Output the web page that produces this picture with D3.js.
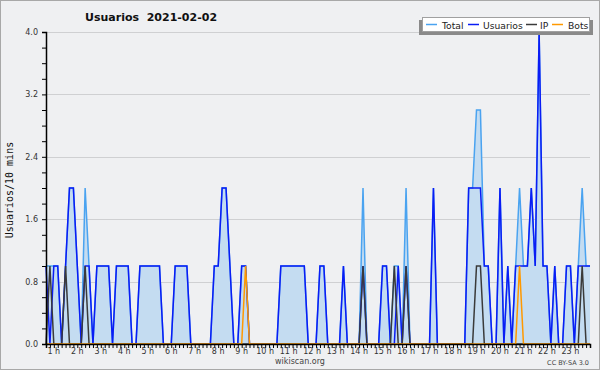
<!DOCTYPE html>
<html><head><meta charset="utf-8">
<script src="https://cdn.jsdelivr.net/npm/d3@7/dist/d3.min.js"></script>
<style>body{margin:0;background:#fff}svg{display:block}</style>
</head><body>
<svg id="c" width="600" height="370"></svg>
<script>
const hourLabels = ["1 h","2 h","3 h","4 h","5 h","6 h","7 h","8 h","9 h","10 h","11 h","12 h","13 h","14 h","15 h","16 h","17 h","18 h","19 h","20 h","21 h","22 h","23 h"];
const yTicks = [0, 0.8, 1.6, 2.4, 3.2, 4.0];
// one value per 10 minutes
const usuarios = [
1,0,1,1,0,1,2,2,1,0,
1,1,0,1,1,1,1,0,1,1,
1,1,0,0,1,1,1,1,1,1,
0,0,0,1,1,1,1,0,0,0,
0,0,0,1,1,2,2,1,0,0,
1,1,0,0,0,0,0,0,0,0,
1,1,1,1,1,1,1,0,0,0,
1,1,0,0,0,0,1,0,0,0,
0,1,0,0,0,0,1,1,0,0,
1,0,1,0,0,0,0,0,0,2,
0,0,0,0,0,0,0,0,2,2,
2,2,1,1,0,0,2,0,1,0,
1,1,1,1,2,1,4,1,1,0,
1,0,0,1,1,0,1,1,1,1];
const ip = [
0,1,0,0,0,1,0,0,0,0,
1,0,0,0,0,0,0,0,0,0,
0,0,0,0,0,0,0,0,0,0,
0,0,0,0,0,0,0,0,0,0,
0,0,0,0,0,0,0,0,0,0,
0,0,0,0,0,0,0,0,0,0,
0,0,0,0,0,0,0,0,0,0,
0,0,0,0,0,0,0,0,0,0,
0,1,0,0,0,0,0,0,0,1,
0,0,1,0,0,0,0,0,0,0,
0,0,0,0,0,0,0,0,0,0,
1,1,0,0,0,0,0,0,0,0,
0,0,0,0,0,0,0,0,0,0,
0,0,0,0,0,0,0,1,0,0];
const bots = [
0,0,0,0,0,0,0,0,0,0,
0,0,0,0,0,0,0,0,0,0,
0,0,0,0,0,0,0,0,0,0,
0,0,0,0,0,0,0,0,0,0,
0,0,0,0,0,0,0,0,0,0,
0,1,0,0,0,0,0,0,0,0,
0,0,0,0,0,0,0,0,0,0,
0,0,0,0,0,0,0,0,0,0,
0,0,0,0,0,0,0,0,0,0,
0,0,0,0,0,0,0,0,0,0,
0,0,0,0,0,0,0,0,0,0,
0,0,0,0,0,0,0,0,0,0,
0,1,0,0,0,0,0,0,0,0,
0,0,0,0,0,0,0,0,0,0];
const total = [
1,1,1,1,0,1,2,2,1,0,
2,1,0,1,1,1,1,0,1,1,
1,1,0,0,1,1,1,1,1,1,
0,0,0,1,1,1,1,0,0,0,
0,0,0,1,1,2,2,1,0,0,
1,1,0,0,0,0,0,0,0,0,
1,1,1,1,1,1,1,0,0,0,
1,1,0,0,0,0,1,0,0,0,
0,2,0,0,0,0,1,1,0,1,
1,0,2,0,0,0,0,0,0,2,
0,0,0,0,0,0,0,0,2,2,
3,3,1,1,0,0,2,0,1,0,
1,2,1,1,2,1,4,1,1,0,
1,0,0,1,1,0,1,2,1,1];
const legendItems = ["Total","Usuarios","IP","Bots"];

const svg = d3.select("#c");
const W = 600, H = 370;
const bg = "#eff0f2";
svg.append("rect").attr("x",0.5).attr("y",0.5).attr("width",W-1).attr("height",H-1)
  .attr("fill",bg).attr("stroke","#a8a8a8");

const x = d3.scaleLinear().domain([0, usuarios.length-1]).range([46, 590]);
const y = d3.scaleLinear().domain([0, 4]).range([344, 32]);

// grid
svg.append("g").selectAll("line").data(yTicks.filter(d=>d>0)).join("line")
  .attr("x1",46).attr("x2",590).attr("y1",d=>Math.round(y(d))+0.5).attr("y2",d=>Math.round(y(d))+0.5)
  .attr("stroke","#cfd0d2").attr("stroke-width",1);

const idx = d3.range(usuarios.length);
const area = d3.area().x(i=>x(i)).y0(y(0)).y1(i=>y(total[i]));
svg.append("path").datum(idx).attr("d",area).attr("fill","#c4dcf1");

const line = arr => d3.line().x(i=>x(i)).y(i=>y(arr[i]));
const series = [[total,"#4aa3f0"],[usuarios,"#0a1cf5"],[ip,"#3a3a3a"],[bots,"#ff9900"]];
series.forEach(([arr,col])=>{
  svg.append("path").datum(idx).attr("d",line(arr)).attr("fill","none")
    .attr("stroke",col).attr("stroke-width",1.5).attr("stroke-linejoin","miter");
});

// y axis
const yAxis = d3.axisLeft(y).tickValues(d3.range(0,4.001,0.2)).tickSize(4)
  .tickFormat(d=> yTicks.some(t=>Math.abs(t-d)<1e-6) ? d.toFixed(1) : "");
const ga = svg.append("g").attr("transform","translate(46,0)").call(yAxis);
ga.select(".domain").attr("stroke","#000").attr("stroke-width",1.5);
ga.selectAll(".tick line").attr("stroke","#000");
ga.selectAll("text").attr("font-family","DejaVu Sans").attr("font-size",8).attr("fill","#333").attr("dx",-1);

// x axis
const xAxis = d3.axisBottom(x).tickValues(idx).tickSize(4).tickFormat(()=> "");
const gx = svg.append("g").attr("transform","translate(0,344)").call(xAxis);
gx.select(".domain").attr("stroke","#000").attr("stroke-width",1.5);
gx.selectAll(".tick line").attr("stroke","#000");
svg.append("g").selectAll("text").data(hourLabels).join("text")
  .attr("x",(d,k)=>x((k+1)*6-4)).attr("y",354).attr("text-anchor","middle")
  .attr("font-family","DejaVu Sans").attr("font-size",8).attr("fill","#333").text(d=>d);

// title
svg.append("text").attr("x",85).attr("y",21).attr("font-family","DejaVu Sans").attr("font-weight","bold")
  .attr("font-size",11).attr("fill","#111").style("white-space","pre").text("Usuarios  2021-02-02");
// y title
svg.append("text").attr("transform","translate(13,190) rotate(-90)").attr("text-anchor","middle")
  .attr("font-family","DejaVu Sans Mono").attr("font-size",10).attr("fill","#111").text("Usuarios/10 mins");

// legend
svg.append("rect").attr("x",419).attr("y",20).attr("width",174).attr("height",15).attr("fill","#8a8a8a");
svg.append("rect").attr("x",422.5).attr("y",17.5).attr("width",167).attr("height",14).attr("fill","#fff").attr("stroke","#a0a0a0");
const legLineX = [426, 468, 526, 552];
const legTextX = [442, 483, 540, 568];
legendItems.forEach((name,k)=>{
  svg.append("line").attr("x1",legLineX[k]).attr("x2",legLineX[k]+11).attr("y1",24.5).attr("y2",24.5)
    .attr("stroke",series[k][1]).attr("stroke-width",1.5);
  svg.append("text").attr("x",legTextX[k]).attr("y",28.5).attr("font-family","DejaVu Sans")
    .attr("font-size",9.2).attr("fill","#222").text(name);
});

svg.append("text").attr("x",300).attr("y",364).attr("text-anchor","middle").attr("font-family","DejaVu Sans")
  .attr("font-size",8).attr("fill","#444").text("wikiscan.org");
svg.append("text").attr("x",589).attr("y",365).attr("text-anchor","end").attr("font-family","DejaVu Sans")
  .attr("font-size",6.5).attr("fill","#444").text("CC BY-SA 3.0");
</script>
</body></html>
